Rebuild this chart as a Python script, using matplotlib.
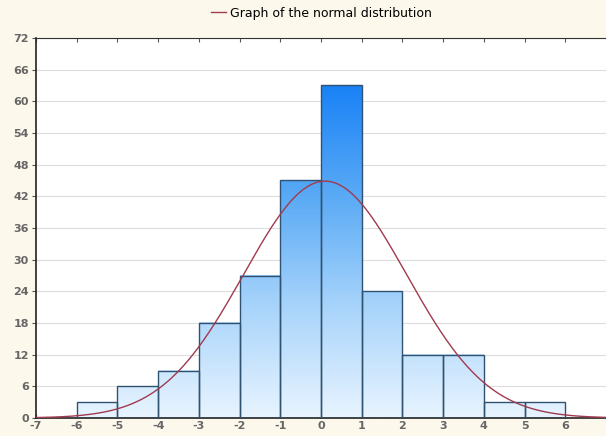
import numpy as np
import matplotlib
matplotlib.use("Agg")
import matplotlib.pyplot as plt
from matplotlib.colors import LinearSegmentedColormap

plt.rcParams["axes.unicode_minus"] = False

bin_edges = [-6, -5, -4, -3, -2, -1, 0, 1, 2, 3, 4, 5, 6]
counts = [3, 6, 9, 18, 27, 45, 63, 24, 12, 12, 3, 3]
curve_mean = 0.1
curve_sd = 2.0
x_ticks = [-7, -6, -5, -4, -3, -2, -1, 0, 1, 2, 3, 4, 5, 6]
y_ticks = [0, 6, 12, 18, 24, 30, 36, 42, 48, 54, 60, 66, 72]
legend_label = "Graph of the normal distribution"

fig = plt.figure(figsize=(6.06, 4.36), dpi=100)
fig.patch.set_facecolor("#fdf8ec")
ax = fig.add_axes([36/606, 18/436, 1 - 36/606, 380/436])
ax.set_facecolor("white")
ax.set_xlim(-7, 7)
ax.set_ylim(0, 72)

cmap = LinearSegmentedColormap.from_list("g", ["#e8f4ff", "#a8d4fb", "#5aaaf5", "#1a82f7"])
ymax = max(counts)
for i, c in enumerate(counts):
    x0, x1 = bin_edges[i], bin_edges[i+1]
    img = np.linspace(0, c / ymax, 256).reshape(-1, 1)
    ax.imshow(img, extent=[x0, x1, 0, c], origin="lower", cmap=cmap, vmin=0, vmax=1,
              aspect="auto", zorder=2, interpolation="bilinear")
    ax.add_patch(plt.Rectangle((x0, 0), x1 - x0, c, fill=False, edgecolor="#2f5270",
                               linewidth=1.0, zorder=3))

ax.set_xlim(-7, 7)
ax.set_ylim(0, 72)

N = sum(counts)
bw = bin_edges[1] - bin_edges[0]
xs = np.linspace(-7, 7, 400)
ys = N * bw / (curve_sd * np.sqrt(2 * np.pi)) * np.exp(-0.5 * ((xs - curve_mean) / curve_sd) ** 2)
line, = ax.plot(xs, ys, color="#a03a4e", linewidth=1.0, zorder=4, label=legend_label)

ax.set_yticks(y_ticks)
ax.set_xticks(x_ticks)
ax.yaxis.grid(True, color="#dddddd", linewidth=0.8, zorder=0)
ax.set_axisbelow(True)
ax.tick_params(axis="both", labelsize=8, colors="#555555", length=3)
ax.tick_params(axis="x", direction="in", top=True, pad=2)
ax.tick_params(axis="y", direction="out", pad=2)
for lab in ax.get_xticklabels() + ax.get_yticklabels():
    lab.set_fontweight("bold")
    lab.set_color("#666666")
for s in ["left", "bottom"]:
    ax.spines[s].set_color("#222222")
    ax.spines[s].set_linewidth(1.2)
ax.spines["top"].set_color("#333333")
ax.spines["right"].set_visible(False)

fig.legend(handles=[line], loc="upper center", bbox_to_anchor=(0.53, 1.0), frameon=False,
           fontsize=9, handlelength=1.2, handletextpad=0.3, borderaxespad=0.15)

fig.savefig("out.png", dpi=100, facecolor=fig.get_facecolor())
